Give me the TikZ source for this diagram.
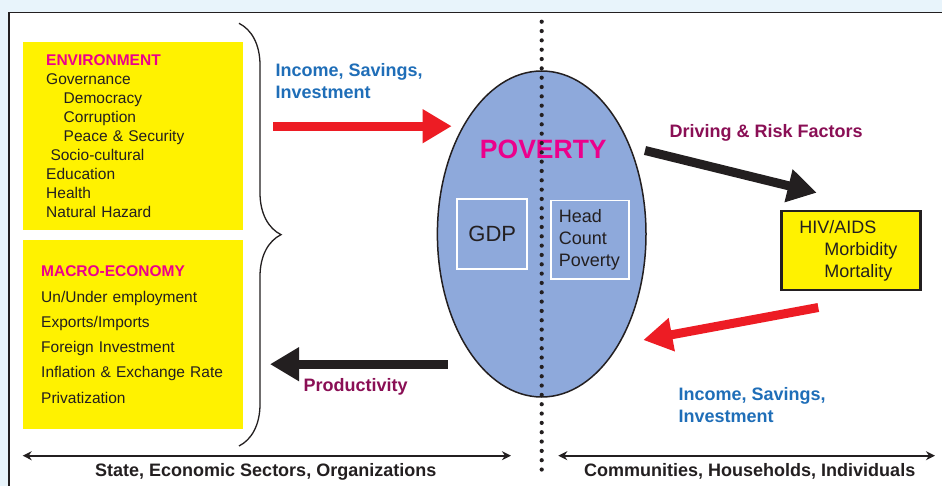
\documentclass[tikz,border=0pt]{standalone}
\usepackage{fontspec}
\setmainfont{Liberation Sans}
\usetikzlibrary{arrows.meta,shapes.geometric,decorations.pathreplacing}
\definecolor{boxyellow}{HTML}{FFF200}
\definecolor{povblue}{HTML}{8EA9DB}
\definecolor{hotpink}{HTML}{EC008C}
\definecolor{wine}{HTML}{8A0F55}
\definecolor{linkblue}{HTML}{1F6EB8}
\definecolor{arrowred}{HTML}{ED1C24}
\definecolor{ink}{HTML}{231F20}
\definecolor{slidebg}{HTML}{E8F4FB}

\begin{document}
\begin{tikzpicture}[x=1pt,y=-1pt,
	factor box/.style={rectangle,fill=boxyellow,text=ink,align=left,anchor=north west,inner ysep=0pt,minimum width=220pt},
	inner box/.style={rectangle,draw=white,line width=1.8pt,text=ink,inner ysep=0pt},
	flow label/.style={inner sep=0pt,align=left,font=\fontsize{18}{22}\selectfont\bfseries},
	thick arrow/.style={line width=9pt,-{Triangle[length=29pt,width=32pt]}},
	scale arrow/.style={ink,line width=2pt,{Stealth[length=9pt,width=9pt]}-{Stealth[length=9pt,width=9pt]}}
]

	\def \divx {541.7};

	\useasboundingbox (0,0) rectangle (942,486);
	\fill[slidebg] (0,0) rectangle (942,486);
	\fill[white] (9,12.5) rectangle (942,486);
	\draw[ink,line width=1.8pt] (9,486) -- (9,12.5) -- (942,12.5);

	\node[factor box,minimum height=188pt,text width=174pt,inner xsep=23pt,font=\fontsize{15.5}{19}\selectfont] (env) at (23,42)
		{\textcolor{hotpink}{\bfseries ENVIRONMENT}\\Governance\\\hspace*{17.5pt}Democracy\\\hspace*{17.5pt}Corruption\\\hspace*{17.5pt}Peace \& Security\\\hspace*{4.3pt}Socio-cultural\\Education\\Health\\Natural Hazard};
	\node[factor box,minimum height=189pt,text width=184pt,inner xsep=18pt,font=\fontsize{15.5}{25.3}\selectfont] (macro) at (23,240)
		{\textcolor{hotpink}{\bfseries MACRO-ECONOMY}\\Un/Under employment\\Exports/Imports\\Foreign Investment\\Inflation \& Exchange Rate\\Privatization};
	\draw[ink,line width=1.3pt,decorate,decoration={brace,amplitude=42pt}] (239,23.3) -- (239,446);

	\node[ellipse,draw=ink,line width=1.5pt,fill=povblue,minimum width=208.6pt,minimum height=326pt,inner sep=0pt] (poverty) at (\divx,234) {};
	\node[anchor=base,inner sep=0pt,text=hotpink,font=\fontsize{26.5}{30}\selectfont\bfseries] (povlabel) at (543.3,158.3) {POVERTY};
	\node[inner box,minimum width=70pt,minimum height=69.7pt,font=\fontsize{22}{26}\selectfont] (gdp) at (492.3,233.8) {GDP};
	\node[inner box,align=left,minimum width=78.3pt,minimum height=78.7pt,text width=61.7pt,inner xsep=8.3pt,font=\fontsize{18}{22}\selectfont] (hcp) at (589.8,239.8) {Head\\Count\\Poverty};

	\node[factor box,draw=ink,line width=2.5pt,minimum width=139pt,minimum height=79pt,text width=103pt,inner xsep=18pt,font=\fontsize{18}{21.7}\selectfont] (hiv) at (780,210)
		{HIV/AIDS\\\hspace*{25pt}Morbidity\\\hspace*{25pt}Mortality};

	\coordinate (inL) at (273.3,126.2);
	\coordinate (inR) at (451.7,126.2);
	\coordinate (riskL) at (645,150.5);
	\coordinate (riskR) at (816.7,192.7);
	\coordinate (backR) at (818.3,307.5);
	\coordinate (backL) at (643.3,340);
	\coordinate (prodR) at (447.7,364.2);
	\coordinate (prodL) at (270,364.2);

	\draw[thick arrow,arrowred] (inL) -- (inR);
	\draw[thick arrow,ink] (riskL) -- (riskR);
	\draw[thick arrow,arrowred] (backR) -- (backL);
	\draw[thick arrow,ink] (prodR) -- (prodL);

	\node[flow label,anchor=north west,text=linkblue] (incomeA) at (275.3,63.3) {Income, Savings,\\Investment};
	\node[flow label,anchor=base west,text=wine] (riskLabel) at (669.3,137.7) {Driving \& Risk Factors};
	\node[flow label,anchor=north west,text=linkblue] (incomeB) at (678.3,387.3) {Income, Savings,\\Investment};
	\node[flow label,anchor=base west,text=wine] (prodLabel) at (303.3,391.7) {Productivity};

	\draw[ink,line width=4.2pt,line cap=round,dash pattern=on 0pt off 9.33pt] (\divx,21.7) -- (\divx,472.7);

	\coordinate (stateL) at (22.7,455.7);
	\coordinate (stateR) at (511,455.7);
	\coordinate (commL) at (558.3,455.7);
	\coordinate (commR) at (935,455.7);
	\draw[scale arrow] (stateL) -- (stateR);
	\draw[scale arrow] (commL) -- (commR);
	\node[flow label,anchor=base west,text=ink] (state) at (95,476) {State, Economic Sectors, Organizations};
	\node[flow label,anchor=base west,text=ink] (comm) at (584,476.7) {Communities, Households, Individuals};
\end{tikzpicture}
\end{document}
